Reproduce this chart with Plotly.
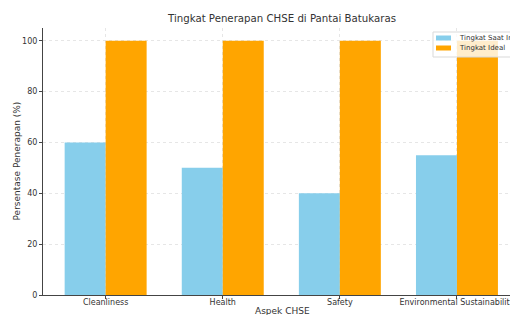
import plotly.graph_objects as go

categories = ["Cleanliness", "Health", "Safety", "Environmental Sustainability"]
current_values = [60, 50, 40, 55]
ideal_values = [100, 100, 100, 100]
series_names = ["Tingkat Saat Ini", "Tingkat Ideal"]
series_colors = ["#87CEEB", "#FFA500"]
y_ticks = [0, 20, 40, 60, 80, 100]

font = "DejaVu Sans"
W, H = 510, 315
PL, PR, PT, PB = 43, 510, 28, 295  # plot area in page pixels


def px(x):
    return (x - PL) / (PR - PL)


def py(y):
    return (PB - y) / (PB - PT)


fig = go.Figure()
for name, vals, col in zip(series_names, [current_values, ideal_values], series_colors):
    fig.add_trace(go.Bar(x=categories, y=vals, name=name,
                         marker=dict(color=col, line=dict(width=0))))

fig.update_layout(
    width=W, height=H,
    margin=dict(l=PL, r=W - PR, t=PT, b=H - PB, autoexpand=False),
    paper_bgcolor="white", plot_bgcolor="white",
    barmode="group", bargap=0.3, bargroupgap=0,
    font=dict(family=font, color="#333333", size=8),
    title=dict(text="Tingkat Penerapan CHSE di Pantai Batukaras", x=282 / W, xanchor="center",
               y=1 - 18 / H, yanchor="middle", font=dict(size=10.2, color="#333333")),
    showlegend=False,
)
fig.update_xaxes(range=[-0.535, (510 - 106) / 117], showline=True, linecolor="#444444", linewidth=1,
                 ticks="outside", ticklen=3, tickcolor="#444444", showgrid=True,
                 gridcolor="#e6e6e6", griddash="dot", gridwidth=0.8, tickfont=dict(size=8),
                 ticklabelstandoff=-4, mirror=False, automargin=False)
fig.update_yaxes(range=[0, 105], tickvals=y_ticks, showline=True, linecolor="#444444", linewidth=1,
                 ticks="outside", ticklen=3, tickcolor="#444444", showgrid=True,
                 gridcolor="#e6e6e6", griddash="dot", gridwidth=0.8, tickfont=dict(size=8),
                 zeroline=False, automargin=False)
fig.add_annotation(text="Aspek CHSE", xref="paper", yref="paper", x=px(282), y=py(311),
                   showarrow=False, xanchor="center", yanchor="middle", font=dict(size=9, color="#333333"))
fig.add_annotation(text="Persentase Penerapan (%)", xref="paper", yref="paper", x=px(16),
                   y=0.5, textangle=-90, showarrow=False, xanchor="center", yanchor="middle",
                   font=dict(size=9, color="#333333"))

# legend (matplotlib-style, clipped at right edge like the reference)
fig.add_shape(type="rect", xref="paper", yref="paper", x0=px(433), x1=px(530), y0=py(57), y1=py(32),
              line=dict(color="#d9d9d9", width=1), fillcolor="rgba(255,255,255,0.8)", layer="above")
for i, (name, col) in enumerate(zip(series_names, series_colors)):
    yc = 38 + 10 * i
    fig.add_shape(type="rect", xref="paper", yref="paper", x0=px(436), x1=px(451),
                  y0=py(yc + 2.5), y1=py(yc - 2.5), line=dict(width=0), fillcolor=col, layer="above")
    fig.add_annotation(text=name, xref="paper", yref="paper", x=px(457), y=py(yc), showarrow=False,
                       xanchor="left", yanchor="middle", font=dict(size=7, color="#333333"))

fig.write_html("out.html", config={"displayModeBar": False},
               post_script="document.body.style.margin='0';document.body.style.overflow='hidden';")
